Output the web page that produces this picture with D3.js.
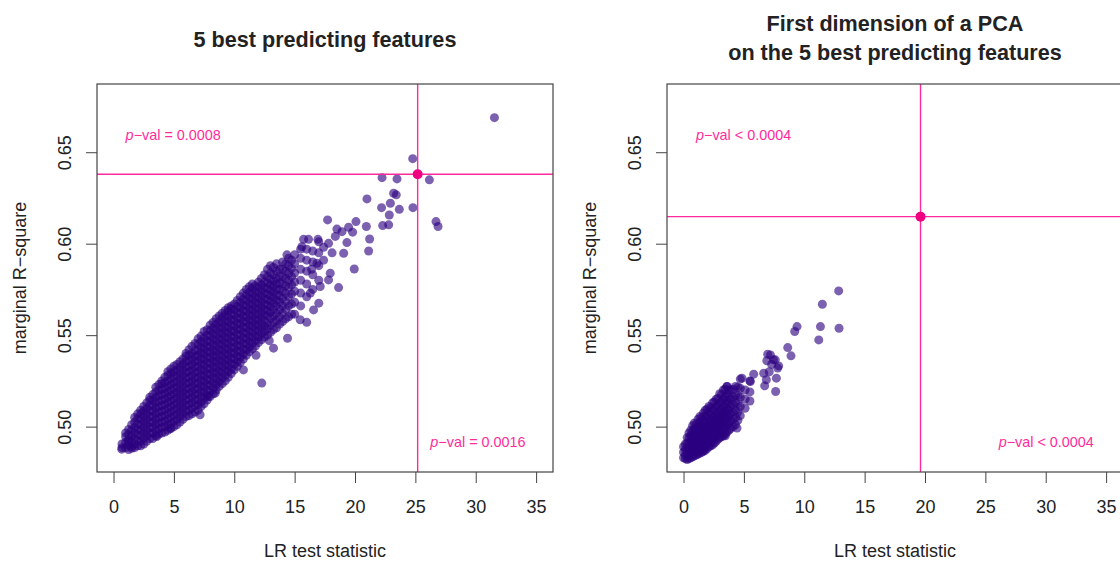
<!DOCTYPE html>
<html>
<meta charset="utf-8">
<head>
<script src="https://d3js.org/d3.v7.min.js"></script>
<style>
  body { margin: 0; background: #fff; }
  svg text { font-family: "Liberation Sans", Arial, Helvetica, sans-serif; fill: #222; }
</style>
</head>
<body>
<script>
// shared axis ticks
var xTicks = [0, 5, 10, 15, 20, 25, 30, 35];
var yTicks = [0.50, 0.55, 0.60, 0.65];

var leftTitle = ["5 best predicting features"];
var rightTitle = ["First dimension of a PCA", "on the 5 best predicting features"];

// dense part of the left cloud, read column by column: [x, [y, ...]]
var leftCloud = [
  [0.7, [.4885, .4905]],
  [1.0, [.4885, .4915, .4945, .4965]],
  [1.5, [.489, .492, .495, .498, .501]],
  [2.0, [.4895, .4925, .4955, .4985, .5015, .5045, .507]],
  [2.5, [.4905, .4935, .4965, .4995, .5025, .5055, .5085, .511]],
  [3.0, [.4935, .4965, .4995, .5025, .5055, .5085, .5115, .5145, .516]],
  [3.5, [.495, .498, .501, .504, .507, .510, .513, .516, .519, .5215]],
  [4.0, [.4965, .4995, .5025, .5055, .5085, .5115, .5145, .5175, .5205, .5235, .525]],
  [4.5, [.498, .501, .504, .507, .510, .513, .516, .519, .522, .525, .528, .530]],
  [5.0, [.500, .503, .506, .509, .512, .515, .518, .521, .524, .527, .530, .533]],
  [5.5, [.5025, .5055, .5085, .5115, .5145, .5175, .5205, .5235, .5265, .5295, .5325, .5355]],
  [6.0, [.5055, .5085, .5115, .5145, .5175, .5205, .5235, .5265, .5295, .5325, .5355, .5385, .540]],
  [6.5, [.507, .510, .513, .516, .519, .522, .525, .528, .531, .534, .537, .540, .544]],
  [7.0, [.509, .512, .515, .518, .521, .524, .527, .530, .533, .536, .539, .542, .545, .548]],
  [7.5, [.5125, .5155, .5185, .5215, .5245, .5275, .5305, .5335, .5365, .5395, .5425, .5455, .5485, .552]],
  [8.0, [.5165, .5195, .5225, .5255, .5285, .5315, .5345, .5375, .5405, .5435, .5465, .5495, .5525, .5555]],
  [8.5, [.520, .523, .526, .529, .532, .535, .538, .541, .544, .547, .550, .553, .556, .559]],
  [9.0, [.5235, .5265, .5295, .5325, .5355, .5385, .5415, .5445, .5475, .5505, .5535, .5565, .5595, .562]],
  [9.5, [.527, .530, .533, .536, .539, .542, .545, .548, .551, .554, .557, .560, .563, .565]],
  [10.0, [.531, .534, .537, .540, .543, .546, .549, .552, .555, .558, .561, .564, .567]],
  [10.5, [.535, .538, .541, .544, .547, .550, .553, .556, .559, .562, .565, .568, .571]],
  [11.0, [.539, .542, .545, .548, .551, .554, .557, .560, .563, .566, .569, .572, .575]],
  [11.5, [.5425, .5455, .5485, .5515, .5545, .5575, .5605, .5635, .5665, .5695, .5725, .5755, .578]],
  [12.0, [.546, .549, .552, .555, .558, .561, .564, .567, .570, .573, .576, .579]],
  [12.5, [.549, .552, .555, .558, .561, .564, .567, .570, .573, .576, .579, .583]],
  [13.0, [.5515, .5555, .5595, .5625, .5655, .5685, .5715, .5745, .5775, .5805, .584, .588]],
  [13.5, [.554, .558, .562, .566, .569, .572, .575, .578, .581, .585, .589]],
  [14.0, [.5575, .562, .566, .570, .574, .578, .582, .586, .590]],
  [14.5, [.560, .566, .571, .576, .580, .584, .588, .592]],
  [15.0, [.5615, .568, .574, .579, .584, .589, .594]],
  [15.5, [.566, .573, .580, .586, .592, .597]],
  [16.0, [.571, .578, .585, .591, .597]],
  [16.5, [.575, .583, .590, .596]],
  [17.0, [.580, .588, .595, .601]]
];

// second pass over the same band, between the columns above
var leftCloudB = [
  [1.25, [.4875, .490, .493, .496, .4985]],
  [1.75, [.4885, .4905, .4935, .4965, .4995, .5025, .505]],
  [2.25, [.4895, .492, .495, .498, .501, .504, .507, .509]],
  [2.75, [.492, .495, .498, .501, .504, .507, .510, .513]],
  [3.25, [.4935, .4965, .4995, .5025, .5055, .5085, .5115, .5145, .5175]],
  [3.75, [.496, .499, .502, .505, .508, .511, .514, .517, .520, .523]],
  [4.25, [.497, .500, .503, .506, .509, .512, .515, .518, .521, .524, .527]],
  [4.75, [.499, .502, .505, .508, .511, .514, .517, .520, .523, .526, .529, .5315]],
  [5.25, [.501, .504, .507, .510, .513, .516, .519, .522, .525, .528, .531, .534]],
  [5.75, [.504, .507, .510, .513, .516, .519, .522, .525, .528, .531, .534, .537]],
  [6.25, [.506, .509, .512, .515, .518, .521, .524, .527, .530, .533, .536, .539, .542]],
  [6.75, [.508, .5115, .5145, .5175, .5205, .5235, .5265, .5295, .5325, .5355, .5385, .5415, .5455]],
  [7.25, [.511, .5135, .5165, .5195, .5225, .5255, .5285, .5315, .5345, .5375, .5405, .5435, .5465, .5495]],
  [7.75, [.5145, .517, .520, .523, .526, .529, .532, .535, .538, .541, .544, .547, .550, .553]],
  [8.25, [.518, .521, .524, .527, .530, .533, .536, .539, .542, .545, .548, .551, .554, .557]],
  [8.75, [.522, .5245, .5275, .5305, .5335, .5365, .5395, .5425, .5455, .5485, .5515, .5545, .5575, .5605]],
  [9.25, [.525, .528, .531, .534, .537, .540, .543, .546, .549, .552, .555, .558, .561, .5635]],
  [9.75, [.529, .5315, .5345, .5375, .5405, .5435, .5465, .5495, .5525, .5555, .5585, .5615, .5645, .566]],
  [10.25, [.533, .5355, .5385, .5415, .5445, .5475, .5505, .5535, .5565, .5595, .5625, .5655, .569]],
  [10.75, [.537, .5395, .5425, .5455, .5485, .5515, .5545, .5575, .5605, .5635, .5665, .5695, .573]],
  [11.25, [.541, .5435, .5465, .5495, .5525, .5555, .5585, .5615, .5645, .5675, .5705, .5735, .5765]],
  [11.75, [.544, .547, .550, .553, .556, .559, .562, .565, .568, .571, .574, .577]],
  [12.25, [.5475, .5505, .5535, .5565, .5595, .5625, .5655, .5685, .5715, .5745, .5775, .581]],
  [12.75, [.550, .5535, .5565, .5605, .5635, .5665, .5695, .5725, .5755, .5785, .582, .586]],
  [13.25, [.553, .557, .5605, .564, .5675, .5705, .5735, .5765, .5795, .583, .587]],
  [13.75, [.556, .560, .564, .568, .5715, .575, .5785, .582, .586]],
  [14.25, [.559, .564, .5685, .573, .577, .581, .585, .589]],
  [14.75, [.5615, .567, .5725, .5775, .582, .5865, .591]]
];

// scattered points around the left cloud
var leftOutliers = [
  [31.55, .6689], [24.78, .6465], [26.16, .6349], [22.24, .6361], [23.48, .6354],
  [23.2, .6276], [23.42, .6267], [20.99, .6245], [22.2, .6197], [22.93, .6221],
  [23.67, .6188], [24.8, .6197], [22.84, .6157], [26.71, .6121], [26.88, .6094],
  [22.29, .6099], [22.79, .6103], [20.94, .6094], [21.21, .6026], [21.13, .596],
  [19.94, .5862], [18.64, .576], [20.08, .6121], [19.47, .609], [19.8, .6063],
  [17.73, .613], [18.92, .6066], [18.5, .608], [16.93, .6024], [19.33, .6006],
  [18.37, .604], [19.06, .5948], [17.81, .6002], [17.4, .598], [15.6, .5984],
  [14.36, .5939], [16.85, .5893], [17.4, .591], [17.95, .5839], [17.81, .5802],
  [17.12, .5766], [16.3, .573], [17.0, .5675], [16.57, .5638], [15.46, .5584],
  [16.0, .557], [14.41, .5483], [13.25, .5429], [12.28, .5238], [10.76, .531],
  [7.17, .5065], [8.42, .5183], [7.86, .5165], [4.68, .4991], [3.58, .4946],
  [1.5, .4882], [0.68, .4877], [1.23, .4919], [15.74, .6024], [16.15, .6024],
  [18.1, .5950], [16.4, .5860], [12.9, .5470], [11.8, .5390]
];

var rightCloud = [
  [0.0, [.483, .486, .489]],
  [0.3, [.482, .485, .488, .491, .494]],
  [0.6, [.483, .486, .489, .492, .495, .498]],
  [0.9, [.484, .487, .490, .493, .496, .499, .502]],
  [1.2, [.485, .488, .491, .494, .497, .500, .504]],
  [1.5, [.486, .489, .492, .495, .498, .501, .505]],
  [1.8, [.487, .490, .493, .496, .499, .502, .506, .509]],
  [2.1, [.489, .492, .495, .498, .501, .504, .508, .511]],
  [2.4, [.490, .493, .496, .499, .502, .505, .509, .513]],
  [2.7, [.492, .495, .498, .501, .504, .507, .511, .515]],
  [3.0, [.494, .497, .500, .503, .506, .509, .513, .518]],
  [3.3, [.495, .499, .502, .505, .508, .511, .515, .520]],
  [3.6, [.497, .501, .504, .507, .510, .514, .518, .522]],
  [3.9, [.499, .503, .507, .511, .515, .520]],
  [4.3, [.501, .505, .509, .513, .517, .522]],
  [4.7, [.506, .511, .516, .521, .526]],
  [5.1, [.510, .515, .520]],
  [5.5, [.514, .519, .525]]
];

var rightCloudB = [
  [0.15, [.4825, .4845, .4875, .4905]],
  [0.45, [.4825, .4845, .4875, .4905, .4935, .4965]],
  [0.75, [.4835, .4855, .4885, .4915, .4945, .4975, .5005]],
  [1.05, [.4845, .4865, .4895, .4925, .4955, .4985, .5015]],
  [1.35, [.4855, .4875, .4905, .4935, .4965, .4995, .5025, .5055]],
  [1.65, [.4865, .4885, .4915, .4945, .4975, .5005, .5035, .5075]],
  [1.95, [.488, .4905, .4935, .4965, .4995, .5025, .5055, .5095]],
  [2.25, [.4895, .4915, .4945, .4975, .5005, .5035, .5065, .5105]],
  [2.55, [.491, .4935, .4965, .4995, .5025, .5055, .5095, .5135]],
  [2.85, [.493, .4955, .4985, .5015, .5045, .5075, .5115, .5155]],
  [3.15, [.4945, .4975, .5005, .5035, .5065, .5095, .5135, .5175]],
  [3.45, [.496, .4995, .5025, .5055, .5085, .5125, .5165, .5205]],
  [3.75, [.498, .502, .5055, .509, .5125, .516, .520]],
  [4.1, [.500, .504, .508, .512, .516, .5205]],
  [4.5, [.5035, .508, .5125, .517, .5215]]
];

var rightOutliers = [
  [12.85, .5742], [11.5, .5669], [11.34, .5547], [12.88, .5538], [11.2, .5474],
  [9.4, .5547], [9.21, .552], [8.63, .5432], [8.9, .5387], [6.97, .5396],
  [7.2, .5392], [7.6, .5365], [7.88, .5332], [7.69, .5265], [7.63, .5192],
  [6.72, .5223], [6.86, .5256], [5.81, .5287], [4.84, .5265], [6.64, .5292],
  [5.53, .5247], [3.6, .5219], [4.43, .4992], [3.46, .495], [1.66, .4873],
  [7.3, .534], [6.9, .536], [7.1, .530], [7.45, .5365], [7.8, .532]
];

// observed statistic for each panel
var leftObserved = [25.19, 0.638];
var rightObserved = [19.63, 0.6148];

// [x, y, text after "p-val"]
var leftNotes = [[1.0, 0.6567, "= 0.0008"], [26.24, 0.489, "= 0.0016"]];
var rightNotes = [[1.03, 0.6567, "< 0.0004"], [26.1, 0.489, "< 0.0004"]];

var width = 1120, height = 563;
var boxW = 456, boxTop = 84, boxBottom = 472;
var pink = "#ff2b9c";
var dotColor = "#2c0080";

var svg = d3.select("body").append("svg")
  .attr("width", width)
  .attr("height", height);

function flatten(rows) {
  var out = [];
  rows.forEach(function (r) {
    r[1].forEach(function (v) { out.push([r[0], v]); });
  });
  return out;
}

function panel(left, title, cloud, outliers, observed, notes) {
  var g = svg.append("g");
  var x = d3.scaleLinear().domain([-1.37, 36.4]).range([left, left + boxW]);
  var y = d3.scaleLinear().domain([0.4752, 0.6873]).range([boxBottom, boxTop]);
  var cx = left + boxW / 2;

  // title
  var tt = g.append("text")
    .attr("text-anchor", "middle")
    .attr("font-size", 21.6)
    .attr("font-weight", "bold");
  title.forEach(function (line, i) {
    tt.append("tspan")
      .attr("x", cx)
      .attr("y", title.length == 1 ? 47 : 31 + i * 29)
      .text(line);
  });

  // points
  var pts = cloud.concat(outliers);
  g.append("g").selectAll("circle")
    .data(pts)
    .join("circle")
    .attr("cx", function (d) { return x(d[0]); })
    .attr("cy", function (d) { return y(d[1]); })
    .attr("r", 4.5)
    .attr("fill", dotColor)
    .attr("fill-opacity", 0.62);

  // observed value lines
  g.append("line")
    .attr("x1", x(observed[0])).attr("x2", x(observed[0]))
    .attr("y1", boxTop).attr("y2", boxBottom)
    .attr("stroke", pink).attr("stroke-width", 1.4);
  g.append("line")
    .attr("x1", left).attr("x2", left + boxW)
    .attr("y1", y(observed[1])).attr("y2", y(observed[1]))
    .attr("stroke", pink).attr("stroke-width", 1.4);
  g.append("circle")
    .attr("cx", x(observed[0]))
    .attr("cy", y(observed[1]))
    .attr("r", 5)
    .attr("fill", "#ee0080");

  notes.forEach(function (n) {
    var t = g.append("text")
      .attr("x", x(n[0]))
      .attr("y", y(n[1]))
      .attr("font-size", 14.4)
      .style("fill", pink);
    t.append("tspan").attr("font-style", "italic").text("p");
    t.append("tspan").text("\u2212val " + n[2]);
  });

  // box
  g.append("rect")
    .attr("x", left).attr("y", boxTop)
    .attr("width", boxW).attr("height", boxBottom - boxTop)
    .attr("fill", "none")
    .attr("stroke", "#444")
    .attr("stroke-width", 1.2);

  // axes
  var gx = g.append("g")
    .attr("transform", "translate(0," + boxBottom + ")")
    .call(d3.axisBottom(x).tickValues(xTicks).tickSize(11).tickPadding(17));
  gx.select(".domain").remove();
  gx.attr("font-size", 18).attr("font-family", null);
  gx.selectAll("line").attr("stroke", "#444");

  var gy = g.append("g")
    .attr("transform", "translate(" + left + ",0)")
    .call(d3.axisLeft(y).tickValues(yTicks).tickSize(11).tickFormat(d3.format(".2f")));
  gy.select(".domain").remove();
  gy.attr("font-size", 18).attr("font-family", null);
  gy.selectAll("line").attr("stroke", "#444");
  gy.selectAll("text")
    .attr("x", null)
    .attr("text-anchor", "middle")
    .attr("dy", "0.35em")
    .attr("transform", "translate(-32.5,0) rotate(-90)");

  // axis titles
  g.append("text")
    .attr("x", cx).attr("y", 557)
    .attr("text-anchor", "middle")
    .attr("font-size", 18)
    .text("LR test statistic");
  g.append("text")
    .attr("transform", "translate(" + (left - 77) + "," + (boxTop + boxBottom) / 2 + ") rotate(-90)")
    .attr("text-anchor", "middle")
    .attr("dy", "0.35em")
    .attr("font-size", 18)
    .text("marginal R\u2212square");
}

panel(97, leftTitle, flatten(leftCloud).concat(flatten(leftCloudB)),
  leftOutliers, leftObserved, leftNotes);
panel(667, rightTitle, flatten(rightCloud).concat(flatten(rightCloudB)),
  rightOutliers, rightObserved, rightNotes);
</script>
</body>
</html>
